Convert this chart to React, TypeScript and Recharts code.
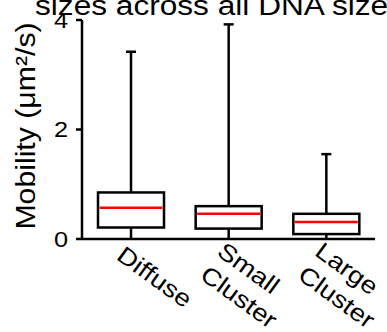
import React from 'react';
import { ComposedChart, Bar, XAxis, YAxis } from 'recharts';

// box plot stats
const categories = ['Diffuse', 'Small\nCluster', 'Large\nCluster'];
const whiskerLow = [0, 0, 0];
const quartile1 = [0.21, 0.19, 0.09];
const medians = [0.57, 0.46, 0.31];
const quartile3 = [0.85, 0.6, 0.46];
const whiskerHigh = [3.42, 3.92, 1.55];
const yTicks = [0, 2, 4];

const data = categories.map((name, i) => ({
    name,
    range: [whiskerLow[i], whiskerHigh[i]],
    low: whiskerLow[i],
    q1: quartile1[i],
    median: medians[i],
    q3: quartile3[i],
    high: whiskerHigh[i],
}));

const FONT = '"Liberation Sans", Arial, Helvetica, sans-serif';
const STRETCH = 1.15; // the figure's lettering is a bit wider than Arial

const BoxShape = (props: any) => {
    const { x, y, width, height, payload } = props;
    const { low, high, q1, median, q3 } = payload;
    const top = Math.min(y, y + height);
    const bottom = Math.max(y, y + height);
    const k = (bottom - top) / (high - low);
    const py = (v: number) => bottom - (v - low) * k;
    const cx = x + width / 2;
    return (
        <g>
            <line x1={cx} x2={cx} y1={py(high)} y2={py(low)} stroke="#000" strokeWidth={2.5} />
            <line x1={cx - 5} x2={cx + 5} y1={py(high)} y2={py(high)} stroke="#000" strokeWidth={2.5} />
            <rect x={x} y={py(q3)} width={width} height={py(q1) - py(q3)} fill="#fff" stroke="#000" strokeWidth={2.5} />
            <line x1={x + 1.5} x2={x + width - 1.5} y1={py(median)} y2={py(median)} stroke="#ff0000" strokeWidth={2.5} />
        </g>
    );
};

const XTick = (props: any) => {
    const { x, y, payload } = props;
    const lines = String(payload.value).split('\n');
    const n = lines.length;
    const base = y - 8; // back to the axis line
    const first = 25 - 5 * (n - 1);
    return (
        <g transform={`translate(${x},${base}) rotate(36)`}>
            <text x={0} y={0} fontSize={24} fontFamily={FONT} fill="#000" textAnchor="start" transform={`scale(${STRETCH},1)`}>
                {lines.map((l, i) => (
                    <tspan key={i} x={-1} y={first + i * 29}>{l}</tspan>
                ))}
            </text>
        </g>
    );
};

const YTick = (props: any) => {
    const { x, y, payload } = props;
    return (
        <g transform={`translate(${x},${y}) scale(${STRETCH},1)`}>
            <text x={0} y={0} dy="0.355em" fontSize={22} fontFamily={FONT} fill="#000" textAnchor="end">
                {payload.value}
            </text>
        </g>
    );
};

export default function App() {
    return (
        <div style={{ position: 'absolute', left: 0, top: 0, width: 387, height: 332, background: '#fff' }}>
            <ComposedChart
                width={387}
                height={332}
                data={data}
                margin={{ top: 20, right: 12, bottom: 0, left: 0 }}
            >
                <g transform={`translate(35,15) scale(${STRETCH},1)`}>
                    <text x={0} y={0} fontSize={27.5} fontFamily={FONT} fill="#000">sizes across all DNA sizes</text>
                </g>
                <g transform="translate(26,126) rotate(-90) scale(1.12,1)">
                    <text x={0} y={0} fontSize={27} fontFamily={FONT} fill="#000" textAnchor="middle" dominantBaseline="central">
                        Mobility (μm²/s)
                    </text>
                </g>
                <XAxis
                    dataKey="name"
                    tick={<XTick />}
                    tickLine={false}
                    interval={0}
                    height={93}
                    axisLine={{ stroke: '#000', strokeWidth: 2.5 }}
                />
                <XAxis
                    xAxisId="top"
                    dataKey="name"
                    orientation="top"
                    tick={false}
                    tickLine={false}
                    height={0}
                    axisLine={{ stroke: '#000', strokeWidth: 2.5 }}
                />
                <YAxis
                    domain={[0, 4]}
                    ticks={yTicks}
                    width={82}
                    tickSize={6}
                    tickMargin={8}
                    tick={<YTick />}
                    tickLine={{ stroke: '#000', strokeWidth: 2.5 }}
                    axisLine={{ stroke: '#000', strokeWidth: 2.5 }}
                />
                <YAxis
                    yAxisId="right"
                    orientation="right"
                    domain={[0, 4]}
                    tick={false}
                    tickLine={false}
                    width={0}
                    axisLine={{ stroke: '#000', strokeWidth: 2.5 }}
                />
                <Bar dataKey="range" barSize={66} shape={<BoxShape />} isAnimationActive={false} />
            </ComposedChart>
        </div>
    );
}
